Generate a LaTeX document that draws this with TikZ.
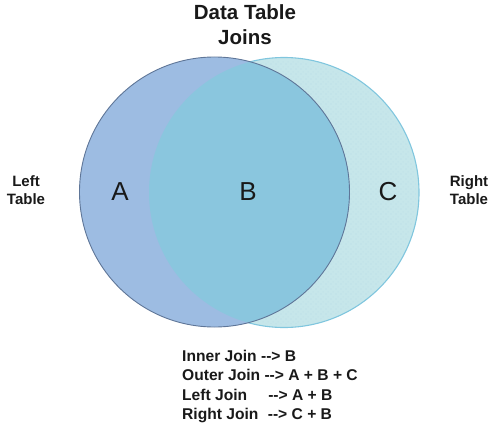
\documentclass[tikz,border=0pt]{standalone}
\usepackage{fontspec}
\setmainfont{Liberation Sans}
\usepackage{xcolor}
\usetikzlibrary{patterns.meta}
\definecolor{leftblue}{RGB}{157,188,226}
\definecolor{leftedge}{RGB}{95,118,152}
\definecolor{rightcyan}{RGB}{198,230,234}
\definecolor{rightedge}{RGB}{128,198,222}
\definecolor{innerblue}{RGB}{138,198,222}
\definecolor{dotblue}{RGB}{160,196,228}
\definecolor{inkblack}{RGB}{25,25,25}

\tikzdeclarepattern{
  name=sparsedots,
  type=uncolored,
  bounding box={(0pt,0pt) and (5pt,5pt)},
  tile size={(5pt,5pt)},
  code={\fill (1.2pt,1.2pt) circle (0.35pt); \fill (3.7pt,3.7pt) circle (0.35pt);}
}

\newcommand{\joinarrow}{-{}->}

\tikzset{
  headtext/.style={font=\bfseries\fontsize{20.5}{25}\selectfont, text=inkblack, align=center},
  sidetext/.style={font=\bfseries\fontsize{15}{17.5}\selectfont, text=inkblack, align=center},
  zonetext/.style={font=\fontsize{26}{26}\selectfont, text=inkblack},
  keytext/.style={font=\bfseries\fontsize{15.6}{19.4}\selectfont, text=inkblack, align=left}
}

\begin{document}
\begin{tikzpicture}[x=1pt,y=-1pt]
    \useasboundingbox (0,0) rectangle (494,425);

    % circle centres
    \coordinate (lc) at (214.5,192);
    \coordinate (rc) at (284,192.5);

    % Right table
    \fill[rightcyan] (rc) circle [radius=135pt];
    \fill[pattern=sparsedots, pattern color=dotblue] (rc) circle [radius=132pt];
    \draw[rightedge, line width=1.1pt] (rc) circle [radius=135pt];

    % Left table
    \fill[leftblue] (lc) circle [radius=135pt];

    % overlap
    \begin{scope}
        \clip (rc) circle [radius=135pt];
        \fill[innerblue] (lc) circle [radius=135pt];
    \end{scope}
    \draw[leftedge, line width=0.9pt] (lc) circle [radius=135pt];

    % labels
    \node[headtext] (title) at (245,25) {Data Table\\Joins};
    \node[sidetext] (lefttab) at (26,190) {Left\\Table};
    \node[sidetext] (righttab) at (469,190) {Right\\Table};

    \node[zonetext] (zoneA) at (120,192) {A};
    \node[zonetext] (zoneB) at (248,192) {B};
    \node[zonetext] (zoneC) at (388,192) {C};

    \node[keytext, anchor=north west, inner sep=0pt] (joinkey) at (182,350)
        {Inner Join \joinarrow{} B\\
         Outer Join \joinarrow{} A + B + C\\
         Left Join\hspace{1.35em}\joinarrow{} A + B\\
         Right Join\hspace{0.6em}\joinarrow{} C + B};
\end{tikzpicture}
\end{document}
